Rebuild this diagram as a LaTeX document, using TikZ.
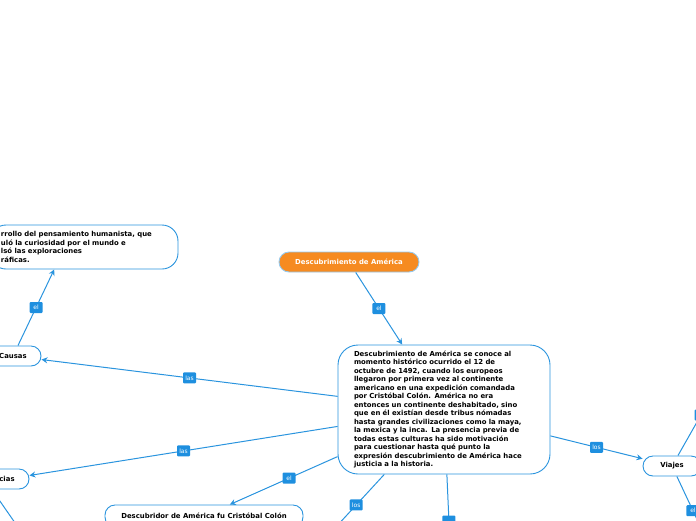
\documentclass[tikz,border=0pt]{standalone}
\usepackage{fontspec}
\setmainfont{DejaVu Sans}
\usetikzlibrary{arrows.meta}
\definecolor{mapblue}{HTML}{2A94DE}
\definecolor{lblblue}{HTML}{1E8FDF}
\definecolor{mainorange}{HTML}{F68B21}
\tikzset{
  topic/.style={draw=mapblue, line width=0.9pt, fill=white, rounded corners=10pt,
    font=\bfseries\fontsize{6.9}{8.5}\selectfont, inner sep=0pt, minimum height=20pt},
  conn/.style={draw=mapblue, line width=1pt},
  lbl/.style={fill=lblblue, text=white, rounded corners=1pt, inner sep=1.5pt,
    minimum height=11pt, minimum width=13pt, font=\fontsize{6}{7}\selectfont}
}
\begin{document}
\begin{tikzpicture}[x=1pt, y=-1pt, >={Stealth[length=6pt,width=6pt]}]
  \useasboundingbox (0,0) rectangle (696,520);
  \clip (0,0) rectangle (696,520);
  % nodos
  \node[topic, fill=mainorange, draw=mapblue!50, text=white, minimum width=140pt] (titulo) at (349,262) {Descubrimiento de América};
  \node[topic, rounded corners=20pt, minimum width=212pt, minimum height=129pt,
    text width=180pt, align=left] (main) at (444,409.5) {Descubrimiento de América se conoce al\\
momento histórico ocurrido el 12 de\\
octubre de 1492, cuando los europeos\\
llegaron por primera vez al continente\\
americano en una expedición comandada\\
por Cristóbal Colón. América no era\\
entonces un continente deshabitado, sino\\
que en él existían desde tribus nómadas\\
hasta grandes civilizaciones como la maya,\\
la mexica y la inca. La presencia previa de\\
todas estas culturas ha sido motivación\\
para cuestionar hasta qué punto la\\
expresión descubrimiento de América hace\\
justicia a la historia.};
  \node[topic, rounded corners=16pt, minimum width=188pt, minimum height=44pt,
    text width=166pt, align=left] (humanismo) at (84,247) {rrollo del pensamiento humanista, que\\
uló la curiosidad por el mundo e\\
lsó las exploraciones\\
ráficas.};
  \node[topic, minimum width=56pt] (causas) at (13,356) {Causas};
  \node[topic, minimum width=44pt] (cias) at (7,479) {cias};
  \node[topic, minimum width=198pt, minimum height=22pt] (colon) at (204,516) {Descubridor de América fu Cristóbal Colón};
  \node[topic, minimum width=58pt] (viajes) at (672,466) {Viajes};
  % extremos fuera del recorte
  \coordinate (losfin) at (335,528);
  \coordinate (bajofin) at (450,545);
  \coordinate (vsube) at (701,415);
  \coordinate (vbaja) at (702,530);
  \coordinate (cini) at (-5,494);
  \coordinate (cfin) at (20,530);
  % conectores
  \draw[conn, ->] (titulo) -- node[lbl] {el} (main);
  \draw[conn, ->] (main) -- node[lbl] {las} (causas);
  \draw[conn, ->] (main) -- node[lbl] {las} (cias);
  \draw[conn, ->] (main) -- node[lbl, pos=0.45] {el} (colon);
  \draw[conn] (main) -- node[lbl, pos=0.57] {los} (losfin);
  \draw[conn] (main) -- node[lbl, pos=0.66] {} (bajofin);
  \draw[conn, ->] (main) -- node[lbl] {los} (viajes);
  \draw[conn, ->] (causas) -- node[lbl] {el} (humanismo.217);
  \draw[conn] (viajes) -- node[lbl, pos=1] {} (vsube);
  \draw[conn] (viajes) -- node[lbl, pos=0.64] {el} (vbaja);
  \draw[conn] (cini) -- (cfin);
\end{tikzpicture}
\end{document}
